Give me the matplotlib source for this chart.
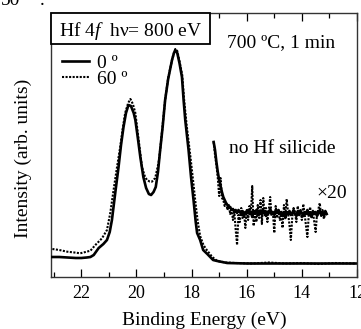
import matplotlib
matplotlib.use("Agg")
import matplotlib.pyplot as plt
import numpy as np
from matplotlib.patches import Rectangle

plt.rcParams["font.family"] = ["Liberation Serif", "DejaVu Serif"]
plt.rcParams["mathtext.fontset"] = "custom"
plt.rcParams["mathtext.rm"] = "Liberation Serif"
plt.rcParams["mathtext.it"] = "Liberation Serif:italic"

# ---------------------------------------------------------------------------
# Data (binding energy in eV, intensity in arb. units)
# ---------------------------------------------------------------------------

# 0 deg, full spectrum
be_0 = [23.05, 22.8, 22.5, 22.2, 22.0, 21.8, 21.67, 21.55, 21.37, 21.2, 21.07,
        20.97, 20.89, 20.77, 20.65, 20.56, 20.47, 20.38, 20.29, 20.2, 20.1,
        20.04, 19.95, 19.86, 19.75, 19.65, 19.55, 19.47, 19.38, 19.3, 19.22,
        19.14, 19.05, 18.96, 18.85, 18.71, 18.64, 18.59, 18.52, 18.44, 18.35,
        18.29, 18.23, 18.11, 18.02, 17.93, 17.85, 17.8, 17.69, 17.58, 17.43,
        17.22, 17.07, 16.71, 16.0, 15.0, 14.0, 13.0, 12.05]
int_0 = [20, 20, 19.5, 19, 19, 19.5, 20, 22, 29, 33, 37,
         45, 57, 84, 110, 132, 150, 164, 172, 171, 164,
         157, 139, 120, 100, 89, 83, 82, 85, 90, 105,
         127, 150, 177, 198, 217, 224, 227, 224, 214, 200,
         177, 157, 127, 100, 77, 55, 44, 37, 27, 23,
         17, 16, 14, 13.5, 13.5, 13.5, 13.5, 13.5]

# 60 deg, full spectrum
be_60 = [23.05, 22.8, 22.51, 22.25, 22.04, 21.85, 21.67, 21.49, 21.25, 21.07,
         20.95, 20.83, 20.71, 20.59, 20.5, 20.41, 20.3, 20.22, 20.13, 20.04,
         19.92, 19.8, 19.7, 19.62, 19.52, 19.44, 19.32, 19.2, 19.14, 19.05,
         18.96, 18.85, 18.71, 18.64, 18.59, 18.52, 18.44, 18.34, 18.27, 18.18,
         18.05, 17.96, 17.87, 17.78, 17.69, 17.57, 17.45, 17.25, 17.07, 16.78,
         16.4, 15.8, 15.2, 14.6, 14.0, 13.4, 12.8, 12.05]
int_60 = [28, 27, 25.3, 24.5, 23.7, 25, 26.3, 32, 38.7, 47,
          64, 87, 109, 130, 148, 164, 174, 178, 173, 164,
          137, 110, 101, 97, 95.5, 95.3, 99, 114, 127, 152,
          177, 199, 217, 224, 228, 226, 216, 202, 177, 152,
          122, 100, 77, 56, 41, 32, 27, 20, 16, 14.5,
          14, 13.5, 14.5, 13.5, 14, 13, 14, 13.5]

# x20 magnified low-energy region
be_x20_start, be_x20_end = 17.2, 13.1
x20_0 = [135, 127, 115, 105, 97, 91, 85, 80, 77, 74, 72, 70, 70, 67, 68, 65, 67, 64, 67, 65,
         63, 66, 61, 65, 64, 67, 63, 65, 60, 66,
         64, 67, 62, 65, 66, 63, 67, 64, 61, 65,
         64, 68, 63, 65, 62, 66, 64, 67, 63, 65,
         61, 64, 59, 65, 63, 66, 62, 64, 67, 63,
         61, 65, 62, 66, 64, 61, 65, 63, 67, 62,
         64, 60, 66, 63, 65, 61, 64, 67, 62, 65,
         61, 66, 63]
x20_60 = [135, 122, 112, 99, 81, 99, 79, 77, 71, 75, 67, 72, 63, 69, 57, 65, 47, 32, 62, 55,
          69, 59, 65, 49, 67, 57, 71, 63, 91, 51,
          65, 55, 72, 59, 77, 53, 79, 62, 69, 55,
          67, 80, 61, 65, 44, 71, 59, 67, 57, 63,
          49, 72, 62, 78, 64, 52, 37, 59, 69, 65,
          55, 71, 61, 67, 57, 73, 63, 51, 40, 62,
          70, 59, 65, 55, 45, 63, 68, 74, 61, 67,
          58, 65, 63]

xticks_major = [22, 20, 18, 16, 14, 12]
xticks_minor = [23, 21, 19, 17, 15, 13]

# ---------------------------------------------------------------------------
# Plot
# ---------------------------------------------------------------------------

fig = plt.figure(figsize=(3.61, 3.29), dpi=100)
ax = fig.add_axes([51 / 361, 52 / 329, 306 / 361, 264 / 329])

dot_style = (0, (1.0, 0.7))
be_x20 = np.linspace(be_x20_start, be_x20_end, len(x20_0))

ax.plot(be_60, int_60, color="black", lw=1.5, linestyle=dot_style, label="60 º", zorder=2)
ax.plot(be_0, int_0, color="black", lw=1.9, linestyle="-", label="0 º", zorder=3)
ax.plot(be_x20, x20_60, color="black", lw=1.5, linestyle=dot_style, zorder=2)
ax.plot(be_x20, x20_0, color="black", lw=1.9, linestyle="-", zorder=3)

ax.set_xlim(23.1, 12.0)
ax.set_ylim(0, 264)
ax.set_yticks([])
ax.set_xticks(xticks_major)
ax.set_xticks(xticks_minor, minor=True)
ax.tick_params(axis="x", which="both", direction="in", top=True, bottom=True,
               labelsize=13, pad=6, width=0.9)
ax.tick_params(axis="x", which="major", length=6)
ax.tick_params(axis="x", which="minor", length=3.5)
for sp in ax.spines.values():
    sp.set_linewidth(1.0)
    sp.set_color("#333333")

ax.set_xlabel("Binding Energy (eV)", fontsize=14, va="baseline")
ax.xaxis.set_label_coords(0.5, (277 - 325) / 264)
ax.set_ylabel("Intensity (arb. units)", fontsize=14, va="center")
ax.yaxis.set_label_coords((23 - 51) / 306, 0.449)

# boxed title
ax.add_patch(Rectangle((0, (277 - 44) / 264), (210 - 51) / 306, 31 / 264,
                       transform=ax.transAxes, facecolor="white", edgecolor="black",
                       lw=1.3, clip_on=False, zorder=5))
ax.text((130.5 - 51) / 306, (277 - 36.5) / 264, "Hf 4$f$  hν= 800 eV",
        transform=ax.transAxes, ha="center", va="baseline", fontsize=14, zorder=6)

ax.text(0.752, (277 - 47.5) / 264, "700 ºC, 1 min", transform=ax.transAxes,
        ha="center", va="baseline", fontsize=14)
ax.text(0.757, (277 - 153.3) / 264, "no Hf silicide", transform=ax.transAxes,
        ha="center", va="baseline", fontsize=14)
ax.text(0.917, (277 - 198.3) / 264, "×20", transform=ax.transAxes,
        ha="center", va="baseline", fontsize=14)

handles, labels = ax.get_legend_handles_labels()
ax.legend(handles[::-1], labels[::-1], loc="upper left",
          bbox_to_anchor=((62 - 51) / 306, (277 - 54) / 264), borderaxespad=0,
          borderpad=0, frameon=False, fontsize=14, handlelength=1.4,
          handletextpad=0.4, labelspacing=-0.05)

# clipped caption fragment at the very top
fig.text(1 / 361, 1 - 5 / 329, "50", fontsize=14, va="baseline", ha="left")
fig.text(40 / 361, 1 - 5 / 329, ".", fontsize=14, va="baseline", ha="left")

fig.savefig("out.png", dpi=100)
